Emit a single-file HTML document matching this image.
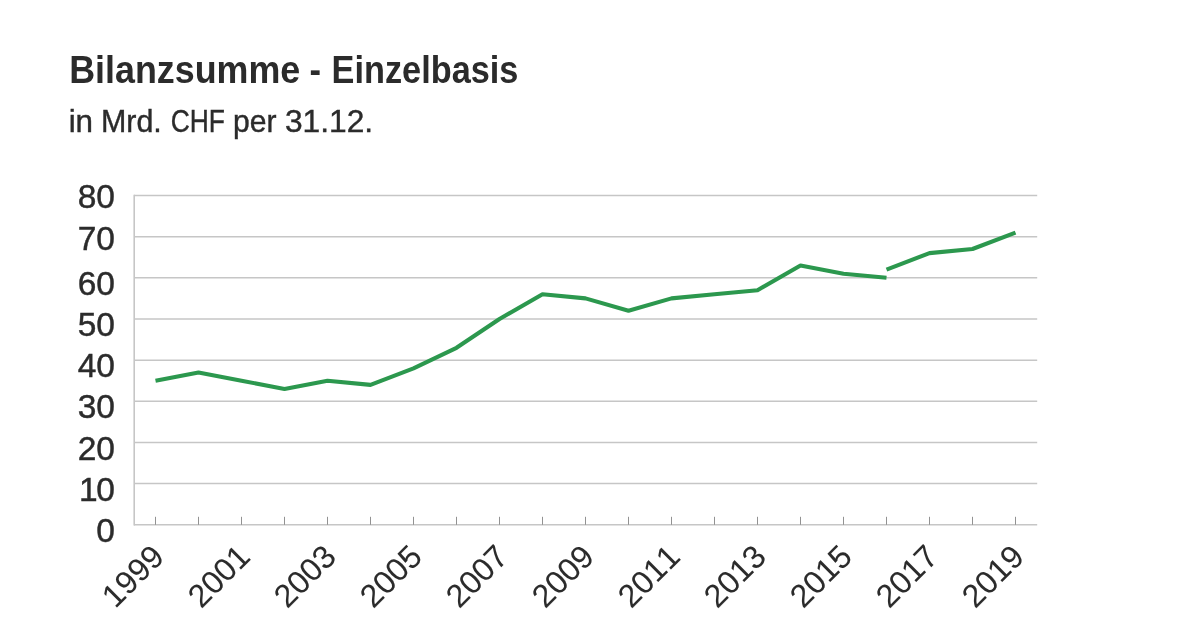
<!DOCTYPE html>
<html><head><meta charset="utf-8"><title>Bilanzsumme - Einzelbasis</title>
<style>
html,body{margin:0;padding:0;background:#fff;}
body{width:1200px;height:633px;overflow:hidden;position:relative;font-family:"Liberation Sans",sans-serif;}
svg{position:absolute;left:0;top:0;will-change:transform;}
text{font-family:"Liberation Sans",sans-serif;fill:#2b2b2b;font-kerning:none;}
</style></head><body>
<svg width="1200" height="633" viewBox="0 0 1200 633">
<rect width="1200" height="633" fill="#fff"/>
<text transform="translate(69.16,82.8) scale(0.9436,1)" font-size="38" font-weight="bold">Bilanzsumme</text><text transform="translate(309.49,82.8) scale(0.9091,1)" font-size="38" font-weight="bold">-</text><text transform="translate(331.59,82.8) scale(0.9029,1)" font-size="38" font-weight="bold">Einzelbasis</text><text transform="translate(68.64,131.7) scale(1.0300,1)" font-size="30.5" font-weight="normal" stroke="#2b2b2b" stroke-width="0.4">in</text><text transform="translate(100.90,131.7) scale(0.9982,1)" font-size="30.5" font-weight="normal" stroke="#2b2b2b" stroke-width="0.4">Mrd.</text><text transform="translate(170.73,131.7) scale(0.8656,1)" font-size="30.5" font-weight="normal" stroke="#2b2b2b" stroke-width="0.4">CHF</text><text transform="translate(233.03,131.7) scale(0.9857,1)" font-size="30.5" font-weight="normal" stroke="#2b2b2b" stroke-width="0.4">per</text><text transform="translate(284.96,131.7) scale(1.0395,1)" font-size="30.5" font-weight="normal" stroke="#2b2b2b" stroke-width="0.4">31.12.</text>
<g stroke="#c6c6c6" stroke-width="1.5" fill="none"><line x1="134" x2="1037.2" y1="524.8" y2="524.8"/><line x1="134" x2="1037.2" y1="483.6" y2="483.6"/><line x1="134" x2="1037.2" y1="442.5" y2="442.5"/><line x1="134" x2="1037.2" y1="401.3" y2="401.3"/><line x1="134" x2="1037.2" y1="360.2" y2="360.2"/><line x1="134" x2="1037.2" y1="319.0" y2="319.0"/><line x1="134" x2="1037.2" y1="277.8" y2="277.8"/><line x1="134" x2="1037.2" y1="236.7" y2="236.7"/><line x1="134" x2="1037.2" y1="195.5" y2="195.5"/></g>
<g stroke="#c6c6c6" stroke-width="1.6" fill="none"><line x1="134.2" x2="134.2" y1="194.8" y2="525.5"/></g>
<g stroke="#929292" stroke-width="1" fill="none"><line x1="155.5" x2="155.5" y1="516.8" y2="524.8"/><line x1="198.5" x2="198.5" y1="516.8" y2="524.8"/><line x1="241.5" x2="241.5" y1="516.8" y2="524.8"/><line x1="284.5" x2="284.5" y1="516.8" y2="524.8"/><line x1="327.5" x2="327.5" y1="516.8" y2="524.8"/><line x1="370.5" x2="370.5" y1="516.8" y2="524.8"/><line x1="413.5" x2="413.5" y1="516.8" y2="524.8"/><line x1="456.5" x2="456.5" y1="516.8" y2="524.8"/><line x1="499.5" x2="499.5" y1="516.8" y2="524.8"/><line x1="542.5" x2="542.5" y1="516.8" y2="524.8"/><line x1="585.5" x2="585.5" y1="516.8" y2="524.8"/><line x1="628.5" x2="628.5" y1="516.8" y2="524.8"/><line x1="671.5" x2="671.5" y1="516.8" y2="524.8"/><line x1="714.5" x2="714.5" y1="516.8" y2="524.8"/><line x1="757.5" x2="757.5" y1="516.8" y2="524.8"/><line x1="800.5" x2="800.5" y1="516.8" y2="524.8"/><line x1="843.5" x2="843.5" y1="516.8" y2="524.8"/><line x1="886.5" x2="886.5" y1="516.8" y2="524.8"/><line x1="929.5" x2="929.5" y1="516.8" y2="524.8"/><line x1="972.5" x2="972.5" y1="516.8" y2="524.8"/><line x1="1015.5" x2="1015.5" y1="516.8" y2="524.8"/></g>
<g font-size="33.5" stroke="#2b2b2b" stroke-width="0.45"><text x="114.9" y="541.9" text-anchor="end">0</text><text x="114.9" y="500.8" text-anchor="end">1<tspan dx="-1.3">0</tspan></text><text x="114.9" y="459.7" text-anchor="end">20</text><text x="114.9" y="418.4" text-anchor="end">30</text><text x="114.9" y="377.2" text-anchor="end">40</text><text x="114.9" y="336.0" text-anchor="end">50</text><text x="114.9" y="295.0" text-anchor="end">60</text><text x="114.9" y="250.0" text-anchor="end">70</text><text x="114.9" y="208.4" text-anchor="end">80</text></g>
<g font-size="32.2" stroke="#2b2b2b" stroke-width="0.08"><text transform="translate(165.9,558.5) rotate(-45)" text-anchor="end">1999</text><text transform="translate(251.9,558.5) rotate(-45)" text-anchor="end">2001</text><text transform="translate(337.9,558.5) rotate(-45)" text-anchor="end">2003</text><text transform="translate(423.9,558.5) rotate(-45)" text-anchor="end">2005</text><text transform="translate(509.9,558.5) rotate(-45)" text-anchor="end">2007</text><text transform="translate(595.9,558.5) rotate(-45)" text-anchor="end">2009</text><text transform="translate(681.9,558.5) rotate(-45)" text-anchor="end">2011</text><text transform="translate(767.9,558.5) rotate(-45)" text-anchor="end">2013</text><text transform="translate(853.9,558.5) rotate(-45)" text-anchor="end">2015</text><text transform="translate(939.9,558.5) rotate(-45)" text-anchor="end">2017</text><text transform="translate(1025.9,558.5) rotate(-45)" text-anchor="end">2019</text></g>
<polyline points="155.5,380.7 198.5,372.5 241.5,380.7 284.5,389.0 327.5,380.7 370.5,384.9 413.5,368.4 456.5,347.8 499.5,319.0 542.5,294.3 585.5,298.4 628.5,310.8 671.5,298.4 714.5,294.3 757.5,290.2 800.5,265.5 843.5,273.7 886.5,277.8" fill="none" stroke="#2c984e" stroke-width="4.1" stroke-linejoin="round"/>
<polyline points="886.5,269.6 929.5,253.1 972.5,249.0 1015.5,232.6" fill="none" stroke="#2c984e" stroke-width="4.1" stroke-linejoin="round"/>
</svg>
</body></html>
